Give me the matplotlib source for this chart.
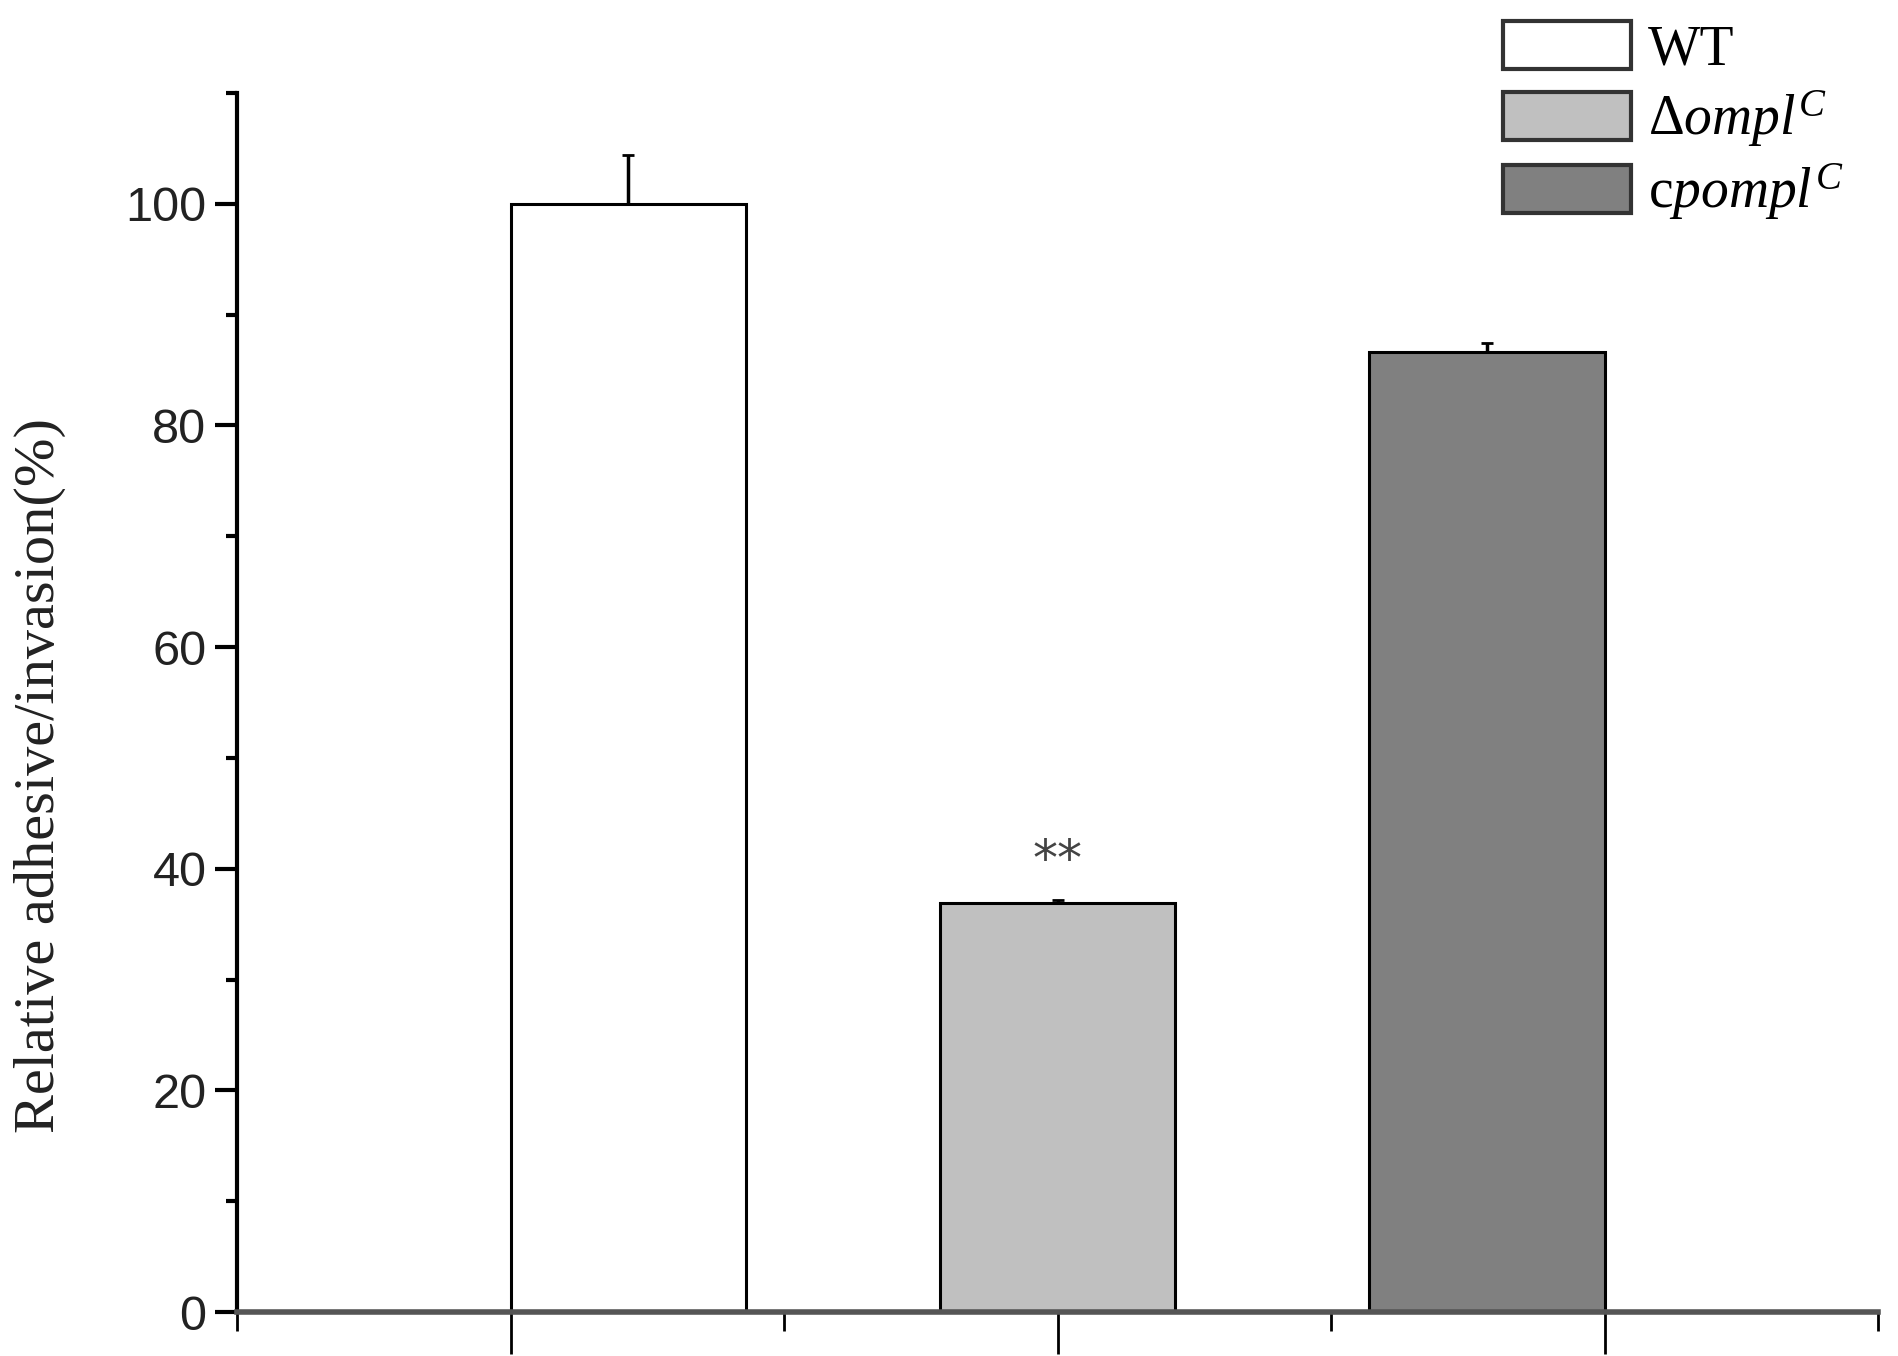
import matplotlib.pyplot as plt
from matplotlib.ticker import MultipleLocator, FixedLocator, NullFormatter

plt.rcParams['mathtext.fontset'] = 'custom'
plt.rcParams['mathtext.rm'] = 'Liberation Serif'
plt.rcParams['mathtext.it'] = 'Liberation Serif:italic'

labels = ['WT', r'$\Delta\mathit{ompl}^{C}$', r'c$\mathit{pompl}^{C}$']
values = [100.0, 36.9, 86.6]
errors = [4.4, 0.3, 0.8]
colors = ['white', '#c0c0c0', '#808080']
positions = [1.215, 2.0, 2.785]

fig = plt.figure(figsize=(18.99, 13.56), dpi=100)
ax = fig.add_axes([0.1248, 0.0324, 0.8642, 0.899])

for x, v, e, c, lab in zip(positions, values, errors, colors, labels):
    ax.bar(x, v, width=0.43, color=c, edgecolor='black', linewidth=2.2, label=lab, zorder=2)
    ax.errorbar(x, v, yerr=[[0], [e]], fmt='none', ecolor='black', elinewidth=2.5,
                capsize=4, capthick=2, zorder=3)

ax.text(positions[1], values[1] + 3.8, '**', ha='center', va='center', fontsize=36,
        family='DejaVu Sans', color='#444444')

ax.set_xlim(0.5, 3.5)
ax.set_ylim(0, 110)
ax.xaxis.set_major_locator(FixedLocator([1, 2, 3]))
ax.xaxis.set_minor_locator(FixedLocator([0.5, 1.5, 2.5, 3.5]))
ax.xaxis.set_major_formatter(NullFormatter())
ax.yaxis.set_major_locator(MultipleLocator(20))
ax.yaxis.set_minor_locator(MultipleLocator(10))

for s in ['top', 'right']:
    ax.spines[s].set_visible(False)
ax.spines['left'].set_linewidth(3)
ax.spines['bottom'].set_linewidth(4)
ax.spines['bottom'].set_color('#555555')

ax.tick_params(axis='x', which='major', direction='out', length=30, width=2)
ax.tick_params(axis='x', which='minor', direction='out', length=14, width=2)
ax.tick_params(axis='y', which='major', direction='out', length=16, width=3,
               labelsize=35, pad=6)
ax.tick_params(axis='y', which='minor', direction='out', length=8, width=3)
for t in ax.get_yticklabels():
    t.set_family('Liberation Sans')
    t.set_color('#222222')

ax.set_ylabel('Relative adhesive/invasion(%)', family='Liberation Serif', fontsize=42,
              color='#222222')
ax.yaxis.set_label_coords(-0.104, 0.44)

leg = ax.legend(loc='upper left', bbox_to_anchor=(0.741, 1.10), frameon=False,
                prop={'family': 'Liberation Serif', 'size': 40},
                handlelength=2.3, handleheight=0.95, labelspacing=0.22, handletextpad=0.3)
for p in leg.get_patches():
    p.set_edgecolor('#333333')
    p.set_linewidth(3)

fig.savefig('out.png', dpi=100)
